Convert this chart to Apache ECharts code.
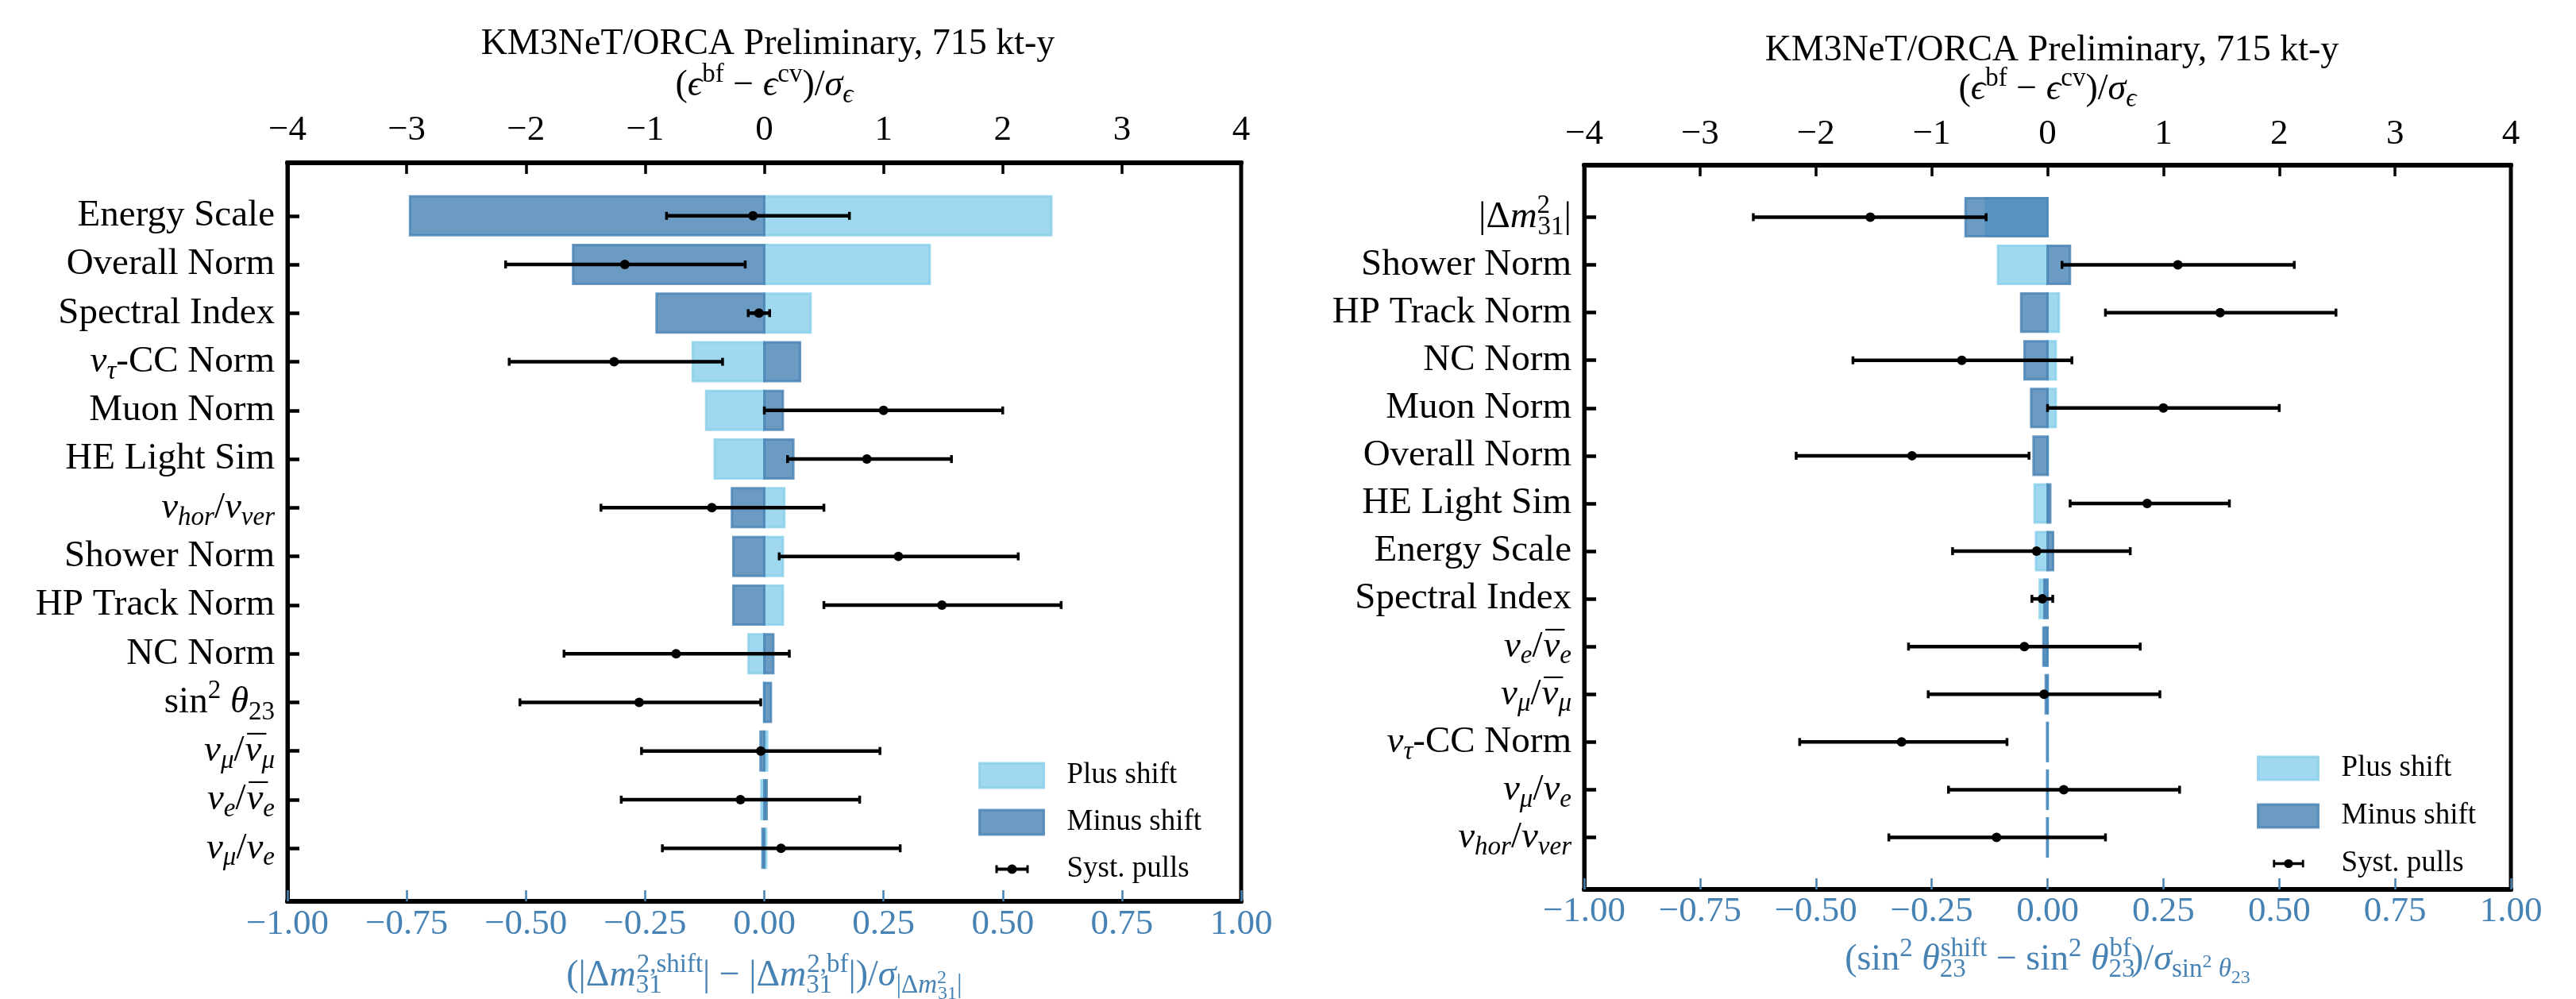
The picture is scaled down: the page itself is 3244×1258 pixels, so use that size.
<!DOCTYPE html>
<html>
<head>
<meta charset="utf-8">
<script src="https://cdn.jsdelivr.net/npm/echarts@6/dist/echarts.min.js"></script>
<style>
  html, body { margin: 0; padding: 0; background: #ffffff; }
  #chart { width: 3244px; height: 1258px; }
</style>
</head>
<body>
<div id="chart"></div>
<script>
// ---------------- data ----------------
// Left panel: impact of each systematic on |Δm²31| (bottom axis) and fitted pulls (top axis)
const leftParams = ['Energy Scale', 'Overall Norm', 'Spectral Index', 'ντ-CC Norm', 'Muon Norm',
  'HE Light Sim', 'νhor/νver', 'Shower Norm', 'HP Track Norm', 'NC Norm', 'sin²θ23',
  'νμ/ν̄μ', 'νe/ν̄e', 'νμ/νe'];
const leftPlusShift  = [0.602, 0.347, 0.097, -0.150, -0.122, -0.104, 0.042, 0.039, 0.039, -0.033, -0.001, 0.006, -0.006, 0.004];
const leftMinusShift = [-0.743, -0.401, -0.226, 0.075, 0.039, 0.061, -0.068, -0.065, -0.065, 0.019, 0.014, -0.008, 0.005, -0.004];
const leftPull      = [-0.095, -1.17, -0.045, -1.26, 1.00, 0.86, -0.44, 1.125, 1.49, -0.74, -1.05, -0.03, -0.20, 0.14];
const leftPullLow   = [-0.82, -2.17, -0.135, -2.14, 0.00, 0.195, -1.37, 0.125, 0.50, -1.68, -2.05, -1.03, -1.20, -0.855];
const leftPullHigh  = [0.714, -0.16, 0.045, -0.35, 2.00, 1.57, 0.50, 2.13, 2.49, 0.21, -0.03, 0.97, 0.80, 1.14];

// Right panel: impact of each systematic on sin²θ23
const rightParams = ['|Δm²31|', 'Shower Norm', 'HP Track Norm', 'NC Norm', 'Muon Norm', 'Overall Norm',
  'HE Light Sim', 'Energy Scale', 'Spectral Index', 'νe/ν̄e', 'νμ/ν̄μ', 'ντ-CC Norm', 'νμ/νe', 'νhor/νver'];
const rightPlusShift  = [-0.133, -0.107, 0.0245, 0.0177, 0.0177, 0.001, -0.028, -0.025, -0.017, -0.004, 0.001, 0.001, 0.001, 0.001];
const rightMinusShift = [-0.177, 0.0485, -0.057, -0.0497, -0.0354, -0.0303, 0.006, 0.012, -0.007, -0.009, -0.004, -0.001, -0.001, -0.001];
const rightPull     = [-1.53, 1.125, 1.49, -0.74, 1.00, -1.17, 0.86, -0.095, -0.045, -0.20, -0.03, -1.26, 0.14, -0.44];
const rightPullLow  = [-2.54, 0.125, 0.50, -1.68, 0.00, -2.17, 0.195, -0.82, -0.135, -1.20, -1.03, -2.14, -0.855, -1.37];
const rightPullHigh = [-0.53, 2.13, 2.49, 0.21, 2.00, -0.16, 1.57, 0.714, 0.045, 0.80, 0.97, -0.35, 1.14, 0.50];

// axis tick values
const pullTicks  = [-4, -3, -2, -1, 0, 1, 2, 3, 4];
const shiftTicks = [-1, -0.75, -0.5, -0.25, 0, 0.25, 0.5, 0.75, 1];

const TITLE = 'KM3NeT/ORCA Preliminary, 715 kt-y';
const LEGEND_NAMES = ['Plus shift', 'Minus shift', 'Syst. pulls'];

// ---------------- styles ----------------
const FONT = "'Liberation Serif', 'DejaVu Serif', serif";
const STEEL = '#4682b4';
const PLUS_COLOR = 'rgba(135,206,235,0.8)';
const MINUS_COLOR = 'rgba(70,130,180,0.8)';

// rich-text markup for labels containing math (macron drawn as a zero-advance token over ν)
const NUBAR = '{mac|\u200a¯}{i|ν}';
const labelMarkup = {
  'ντ-CC Norm': '{i|ν}{sb|τ}{n|-CC Norm}',
  'νhor/νver': '{i|ν}{sb|hor}{n|/}{i|ν}{sb|ver}',
  'sin²θ23': '{n|sin}{sp|2}{i| θ}{sbn|23}',
  'νμ/ν̄μ': '{i|ν}{sb|μ}{n|/}' + NUBAR + '{sb|μ}',
  'νe/ν̄e': '{i|ν}{sb|e}{n|/}' + NUBAR + '{sb|e}',
  'νμ/νe': '{i|ν}{sb|μ}{n|/}{i|ν}{sb|e}',
  '|Δm²31|': '{n||Δ}{i|m}{spw|2}{sbn|31}{n||}'
};
function markup(name) { return labelMarkup[name] || ('{n|' + name + '}'); }

function richSet(color, big, small, tiny) {
  const base = { fontFamily: FONT, color: color, align: 'left', verticalAlign: 'middle' };
  const subPad = Math.round(small * 0.75), supPad = Math.round(small * 0.85);
  return {
    n:   Object.assign({}, base, { fontSize: big }),
    i:   Object.assign({}, base, { fontSize: big, fontStyle: 'italic' }),
    mac: Object.assign({}, base, { fontSize: big, width: 1 }),
    sb:  Object.assign({}, base, { fontSize: small, fontStyle: 'italic', padding: [subPad, 0, 0, 0] }),
    sbn: Object.assign({}, base, { fontSize: small, padding: [subPad, 0, 0, 0] }),
    sbw: Object.assign({}, base, { fontSize: small, padding: [subPad, 0, 0, 0], width: 1 }),
    sp:  Object.assign({}, base, { fontSize: small, padding: [0, 0, supPad, 0] }),
    spw: Object.assign({}, base, { fontSize: small, padding: [0, 0, supPad, 0], width: 1 }),
    si:  Object.assign({}, base, { fontSize: small, fontStyle: 'italic', padding: [subPad, 0, 0, 0] }),
    ssp: Object.assign({}, base, { fontSize: tiny, padding: [6, 0, 0, 0] }),
    sspw:Object.assign({}, base, { fontSize: tiny, padding: [6, 0, 0, 0], width: 1 }),
    ssb: Object.assign({}, base, { fontSize: tiny, padding: [Math.round(tiny * 1.9), 0, 0, 0] })
  };
}

const topName = '{n|(}{i|ϵ}{sp|bf}{n| − }{i|ϵ}{sp|cv}{n|)/}{i|σ}{si|ϵ}';
const leftBottomName = '{n|(|Δ}{i|m}{sbw|31}{sp|2,shift}{n|| − |Δ}{i|m}{sbw|31}{sp|2,bf}{n||)/}{i|σ}{sbn||Δ}{si|m}{sspw|2}{ssb|31}{sbn||}';
const rightBottomName = '{n|(sin}{sp|2}{i| θ}{sbw|23}{sp|shift}{n| − sin}{sp|2}{i| θ}{sbw|23}{sp|bf}{n|)/}{i|σ}{sbn|sin}{ssp|2}{si| θ}{ssb|23}';

const PULL_ICON = 'path://M0,0h0.01v0.01h-0.01z M81,31h-0.01v-0.01h0.01z ' +
  'M20,13.5h42v4h-42z M20,10.5h3v10h-3z M59,10.5h3v10h-3z ' +
  'M47,15.5a6,6 0 1,1 -12,0a6,6 0 1,1 12,0z';

function fmtSigned(v, digits) {
  const s = digits == null ? String(Math.abs(v)) : Math.abs(v).toFixed(digits);
  return (v < -1e-9 ? '−' : '') + s;
}

// ---------------- axes ----------------
function bottomAxis(gridIndex, name, nameGap, labelMargin) {
  return {
    type: 'value', gridIndex: gridIndex, position: 'bottom',
    min: shiftTicks[0], max: shiftTicks[shiftTicks.length - 1], interval: shiftTicks[1] - shiftTicks[0],
    axisLine: { show: true, onZero: false, lineStyle: { color: '#000', width: 6 } },
    axisTick: { show: true, inside: true, length: 14, lineStyle: { color: STEEL, width: 2.5 } },
    axisLabel: { margin: labelMargin, fontFamily: FONT, fontSize: 45, color: STEEL,
      formatter: v => fmtSigned(v, 2) },
    splitLine: { show: false },
    name: name, nameLocation: 'middle', nameGap: nameGap,
    nameTextStyle: { verticalAlign: 'middle', rich: richSet(STEEL, 46, 33, 24) }
  };
}
function topAxis(gridIndex, nameGap, labelMargin) {
  return {
    type: 'value', gridIndex: gridIndex, position: 'top',
    min: pullTicks[0], max: pullTicks[pullTicks.length - 1], interval: pullTicks[1] - pullTicks[0],
    axisLine: { show: true, onZero: false, lineStyle: { color: '#000', width: 6 } },
    axisTick: { show: true, inside: true, length: 14, lineStyle: { color: '#000', width: 3.5 } },
    axisLabel: { margin: labelMargin, fontFamily: FONT, fontSize: 45, color: '#000',
      formatter: v => fmtSigned(v) },
    splitLine: { show: false },
    name: topName, nameLocation: 'middle', nameGap: nameGap,
    nameTextStyle: { verticalAlign: 'middle', rich: richSet('#000', 46, 33, 24) }
  };
}
function catAxis(gridIndex, params) {
  const idx = params.map((_, i) => i);
  return {
    type: 'value', gridIndex: gridIndex, inverse: true, min: -1.09, max: params.length - 1 + 1.09,
    axisLine: { show: true, onZero: false, lineStyle: { color: '#000', width: 5 } },
    axisTick: { show: true, inside: true, length: 15, customValues: idx, lineStyle: { color: '#000', width: 4.5 } },
    axisLabel: { margin: 16, customValues: idx, formatter: v => markup(params[Math.round(v)]),
      rich: richSet('#000', 47, 33, 24) },
    splitLine: { show: false }
  };
}

// ---------------- series ----------------
function barSeries(name, xi, yi, values, color, z) {
  return {
    type: 'custom', name: name, xAxisIndex: xi, yAxisIndex: yi, z: z, silent: true,
    data: values.map((v, i) => [v, i]), encode: { x: 0, y: 1 },
    itemStyle: { color: color },
    renderItem: function (params, api) {
      const i = api.value(1);
      const p0 = api.coord([0, i]);
      const p1 = api.coord([api.value(0), i]);
      const h = api.size([0, 0.8])[1];
      return {
        type: 'rect',
        shape: { x: Math.min(p0[0], p1[0]), y: p0[1] - h / 2, width: Math.abs(p1[0] - p0[0]), height: h },
        style: { fill: color, stroke: color, lineWidth: 3 }
      };
    }
  };
}
function pullSeries(xi, yi, c, lo, hi) {
  return {
    type: 'custom', name: 'Syst. pulls', xAxisIndex: xi, yAxisIndex: yi, z: 5, silent: true,
    data: c.map((v, i) => [v, lo[i], hi[i], i]), encode: { x: [0, 1, 2], y: 3 },
    itemStyle: { color: '#000' },
    renderItem: function (params, api) {
      const i = api.value(3);
      const pc = api.coord([api.value(0), i]);
      const pl = api.coord([api.value(1), i]);
      const ph = api.coord([api.value(2), i]);
      const cap = 5;
      return {
        type: 'group',
        children: [
          { type: 'line', shape: { x1: pl[0], y1: pl[1], x2: ph[0], y2: ph[1] }, style: { stroke: '#000', lineWidth: 4.5 } },
          { type: 'line', shape: { x1: pl[0], y1: pl[1] - cap, x2: pl[0], y2: pl[1] + cap }, style: { stroke: '#000', lineWidth: 3.5 } },
          { type: 'line', shape: { x1: ph[0], y1: ph[1] - cap, x2: ph[0], y2: ph[1] + cap }, style: { stroke: '#000', lineWidth: 3.5 } },
          { type: 'circle', shape: { cx: pc[0], cy: pc[1], r: 6 }, style: { fill: '#000' } }
        ]
      };
    }
  };
}

function legendFor(left, top, w, h, gap) {
  return {
    orient: 'vertical', left: left, top: top, padding: 0, itemWidth: w, itemHeight: h, itemGap: gap,
    selectedMode: false,
    textStyle: { fontFamily: FONT, fontSize: 37, color: '#000', lineHeight: h, padding: [0, 0, 0, 24] },
    data: [
      { name: LEGEND_NAMES[0], icon: 'rect', itemStyle: { color: PLUS_COLOR, borderColor: PLUS_COLOR, borderWidth: 3 } },
      { name: LEGEND_NAMES[1], icon: 'rect', itemStyle: { color: MINUS_COLOR, borderColor: MINUS_COLOR, borderWidth: 3 } },
      { name: LEGEND_NAMES[2], icon: PULL_ICON, itemStyle: { color: '#000', borderWidth: 0 } }
    ]
  };
}

const chart = echarts.init(document.getElementById('chart'), null, { renderer: 'canvas' });
chart.setOption({
  animation: false,
  backgroundColor: '#ffffff',
  title: [
    { text: TITLE, left: 962, top: 26, textAlign: 'center',
      textStyle: { fontFamily: FONT, fontSize: 46, fontWeight: 'normal', color: '#000', lineHeight: 50 } },
    { text: TITLE, left: 2579, top: 34, textAlign: 'center',
      textStyle: { fontFamily: FONT, fontSize: 46, fontWeight: 'normal', color: '#000', lineHeight: 50 } }
  ],
  grid: [
    { left: 362, top: 205, width: 1201, height: 930, show: true, borderColor: '#000', borderWidth: 5,
      containLabel: false, outerBoundsMode: 'none' },
    { left: 1995, top: 208, width: 1167, height: 912, show: true, borderColor: '#000', borderWidth: 5,
      containLabel: false, outerBoundsMode: 'none' }
  ],
  legend: [
    legendFor(1232, 958, 81, 31, 22),
    legendFor(2842, 949, 76, 29, 23)
  ],
  xAxis: [
    bottomAxis(0, leftBottomName, 94, 7),
    topAxis(0, 85, 18),
    bottomAxis(1, rightBottomName, 89, 6),
    topAxis(1, 82, 16)
  ],
  yAxis: [
    catAxis(0, leftParams),
    catAxis(1, rightParams)
  ],
  series: [
    barSeries('Plus shift', 0, 0, leftPlusShift, PLUS_COLOR, 2),
    barSeries('Minus shift', 0, 0, leftMinusShift, MINUS_COLOR, 3),
    pullSeries(1, 0, leftPull, leftPullLow, leftPullHigh),
    barSeries('Plus shift', 2, 1, rightPlusShift, PLUS_COLOR, 2),
    barSeries('Minus shift', 2, 1, rightMinusShift, MINUS_COLOR, 3),
    pullSeries(3, 1, rightPull, rightPullLow, rightPullHigh)
  ]
});
</script>
</body>
</html>
